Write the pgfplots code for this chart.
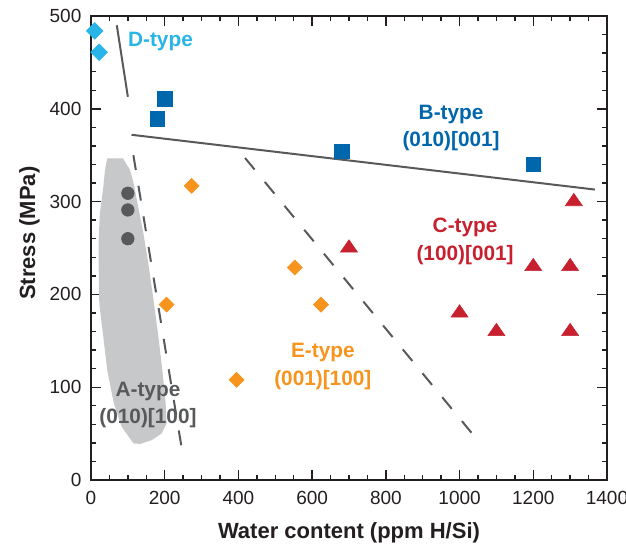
\documentclass[border=0pt]{standalone}
\usepackage{fontspec}
\setmainfont{Liberation Sans}
\usepackage{pgfplots}
\pgfplotsset{compat=1.18}
\definecolor{ccyan}{RGB}{41,181,232}
\definecolor{cblue}{RGB}{0,103,172}
\definecolor{corange}{RGB}{247,148,29}
\definecolor{cred}{RGB}{199,33,48}
\definecolor{cdgray}{RGB}{88,89,91}
\definecolor{cregion}{RGB}{199,200,202}
\definecolor{caxis}{RGB}{35,31,32}
\begin{document}
\begin{tikzpicture}
\useasboundingbox (-45.5pt,-33pt) rectangle (267.5pt,240pt);
\begin{axis}[
  scale only axis, width=258pt, height=232pt,
  xmin=0, xmax=1400, ymin=0, ymax=500,
  xtick={0,200,...,1400}, ytick={0,100,...,500},
  minor x tick num=3, minor y tick num=4,
  tick align=inside, tick pos=both,
  xticklabel pos=lower, yticklabel pos=left,
  major tick length=4.8pt, minor tick length=2.5pt,
  tick style={caxis, line width=0.7pt},
  axis line style={caxis, line width=0.75pt},
  scaled ticks=false,
  /pgf/number format/1000 sep={},
  /pgf/number format/assume math mode=true,
  tick label style={font=\fontsize{9.5}{11}\selectfont, text=caxis},
  xticklabel style={yshift=-2pt},
  yticklabel style={xshift=-1.3pt},
  xlabel={Water content (ppm H/Si)},
  ylabel={Stress (MPa)},
  xlabel style={at={(axis description cs:0.5,-0.127)}, anchor=base, font=\fontsize{11}{13}\selectfont\bfseries, text=caxis},
  ylabel style={at={(axis description cs:-0.1085,0.532)}, anchor=base, rotate=0, font=\fontsize{11}{13}\selectfont\bfseries, text=caxis},
]
% A-type region
\addplot[fill=cregion, draw=none] coordinates {
 (44,346.5) (87,346.5) (106,334) (115,321) (128,294.5) (142,266) (155.5,233.5)
 (171,190) (183,154) (193.5,118.5) (202.5,82.6) (205,61) (192,50.3) (165,43)
 (133,38.8) (115,39.5) (83,57.5) (62,82.6) (44,118.5) (33.5,154) (22.5,190)
 (21,226) (21,260) (24,287) (33.5,316) (38,334) (44,346.5)
} -- cycle;
% boundary lines
\addplot[cdgray, line width=1pt] coordinates {(70,490) (100,413)};
\addplot[cdgray, line width=1pt] coordinates {(110,372) (1367,313)};
\addplot[cdgray, line width=1pt, dash pattern=on 7.5pt off 8pt] coordinates {(115,350) (250,25)};
\addplot[cdgray, line width=1pt, dash pattern=on 7.5pt off 8pt] coordinates {(418,347) (1055,40)};
% D-type
\addplot[ccyan, only marks, mark=square*, mark size=2.95pt, mark options={rotate=45, fill=ccyan, draw=ccyan, line width=0.3pt}] coordinates {(10,484) (22,461)};
% B-type
\addplot[cblue, only marks, mark=square*, mark size=3.65pt, mark options={fill=cblue, draw=cblue, line width=0.3pt}] coordinates {(180,389) (200,411) (680,354) (1200,340)};
% A-type
\addplot[cdgray, only marks, mark=*, mark size=3.15pt, mark options={fill=cdgray, draw=cdgray, line width=0.3pt}] coordinates {(100,309) (100,291) (100,260)};
% E-type
\addplot[corange, only marks, mark=square*, mark size=2.65pt, mark options={rotate=45, fill=corange, draw=corange, line width=0.3pt}] coordinates {(205,189) (273,317) (395,108) (553,229) (624,189)};
% C-type
\addplot[cred, only marks, mark=triangle*, mark size=4.1pt, mark options={xscale=1.2, fill=cred, draw=cred, line width=0.3pt}] coordinates {(700,250) (1000,180) (1100,160) (1200,230) (1300,230) (1300,160) (1310,300)};
% labels
\node[font=\fontsize{10.4}{13.8}\selectfont\bfseries, text=ccyan, anchor=base] at (axis cs:188.5,467) {D-type};
\node[font=\fontsize{10.4}{13.8}\selectfont\bfseries, text=cblue, align=center] at (axis cs:977,379.3) {B-type\\(010)[001]};
\node[font=\fontsize{10.4}{13.8}\selectfont\bfseries, text=cred, align=center] at (axis cs:1015,257) {C-type\\(100)[001]};
\node[font=\fontsize{10.4}{13.8}\selectfont\bfseries, text=corange, align=center] at (axis cs:629,122) {E-type\\(001)[100]};
\node[font=\fontsize{10.4}{13.8}\selectfont\bfseries, text=cdgray, align=center] at (axis cs:154.6,80.8) {A-type\\(010)[100]};
\end{axis}
\end{tikzpicture}
\end{document}
